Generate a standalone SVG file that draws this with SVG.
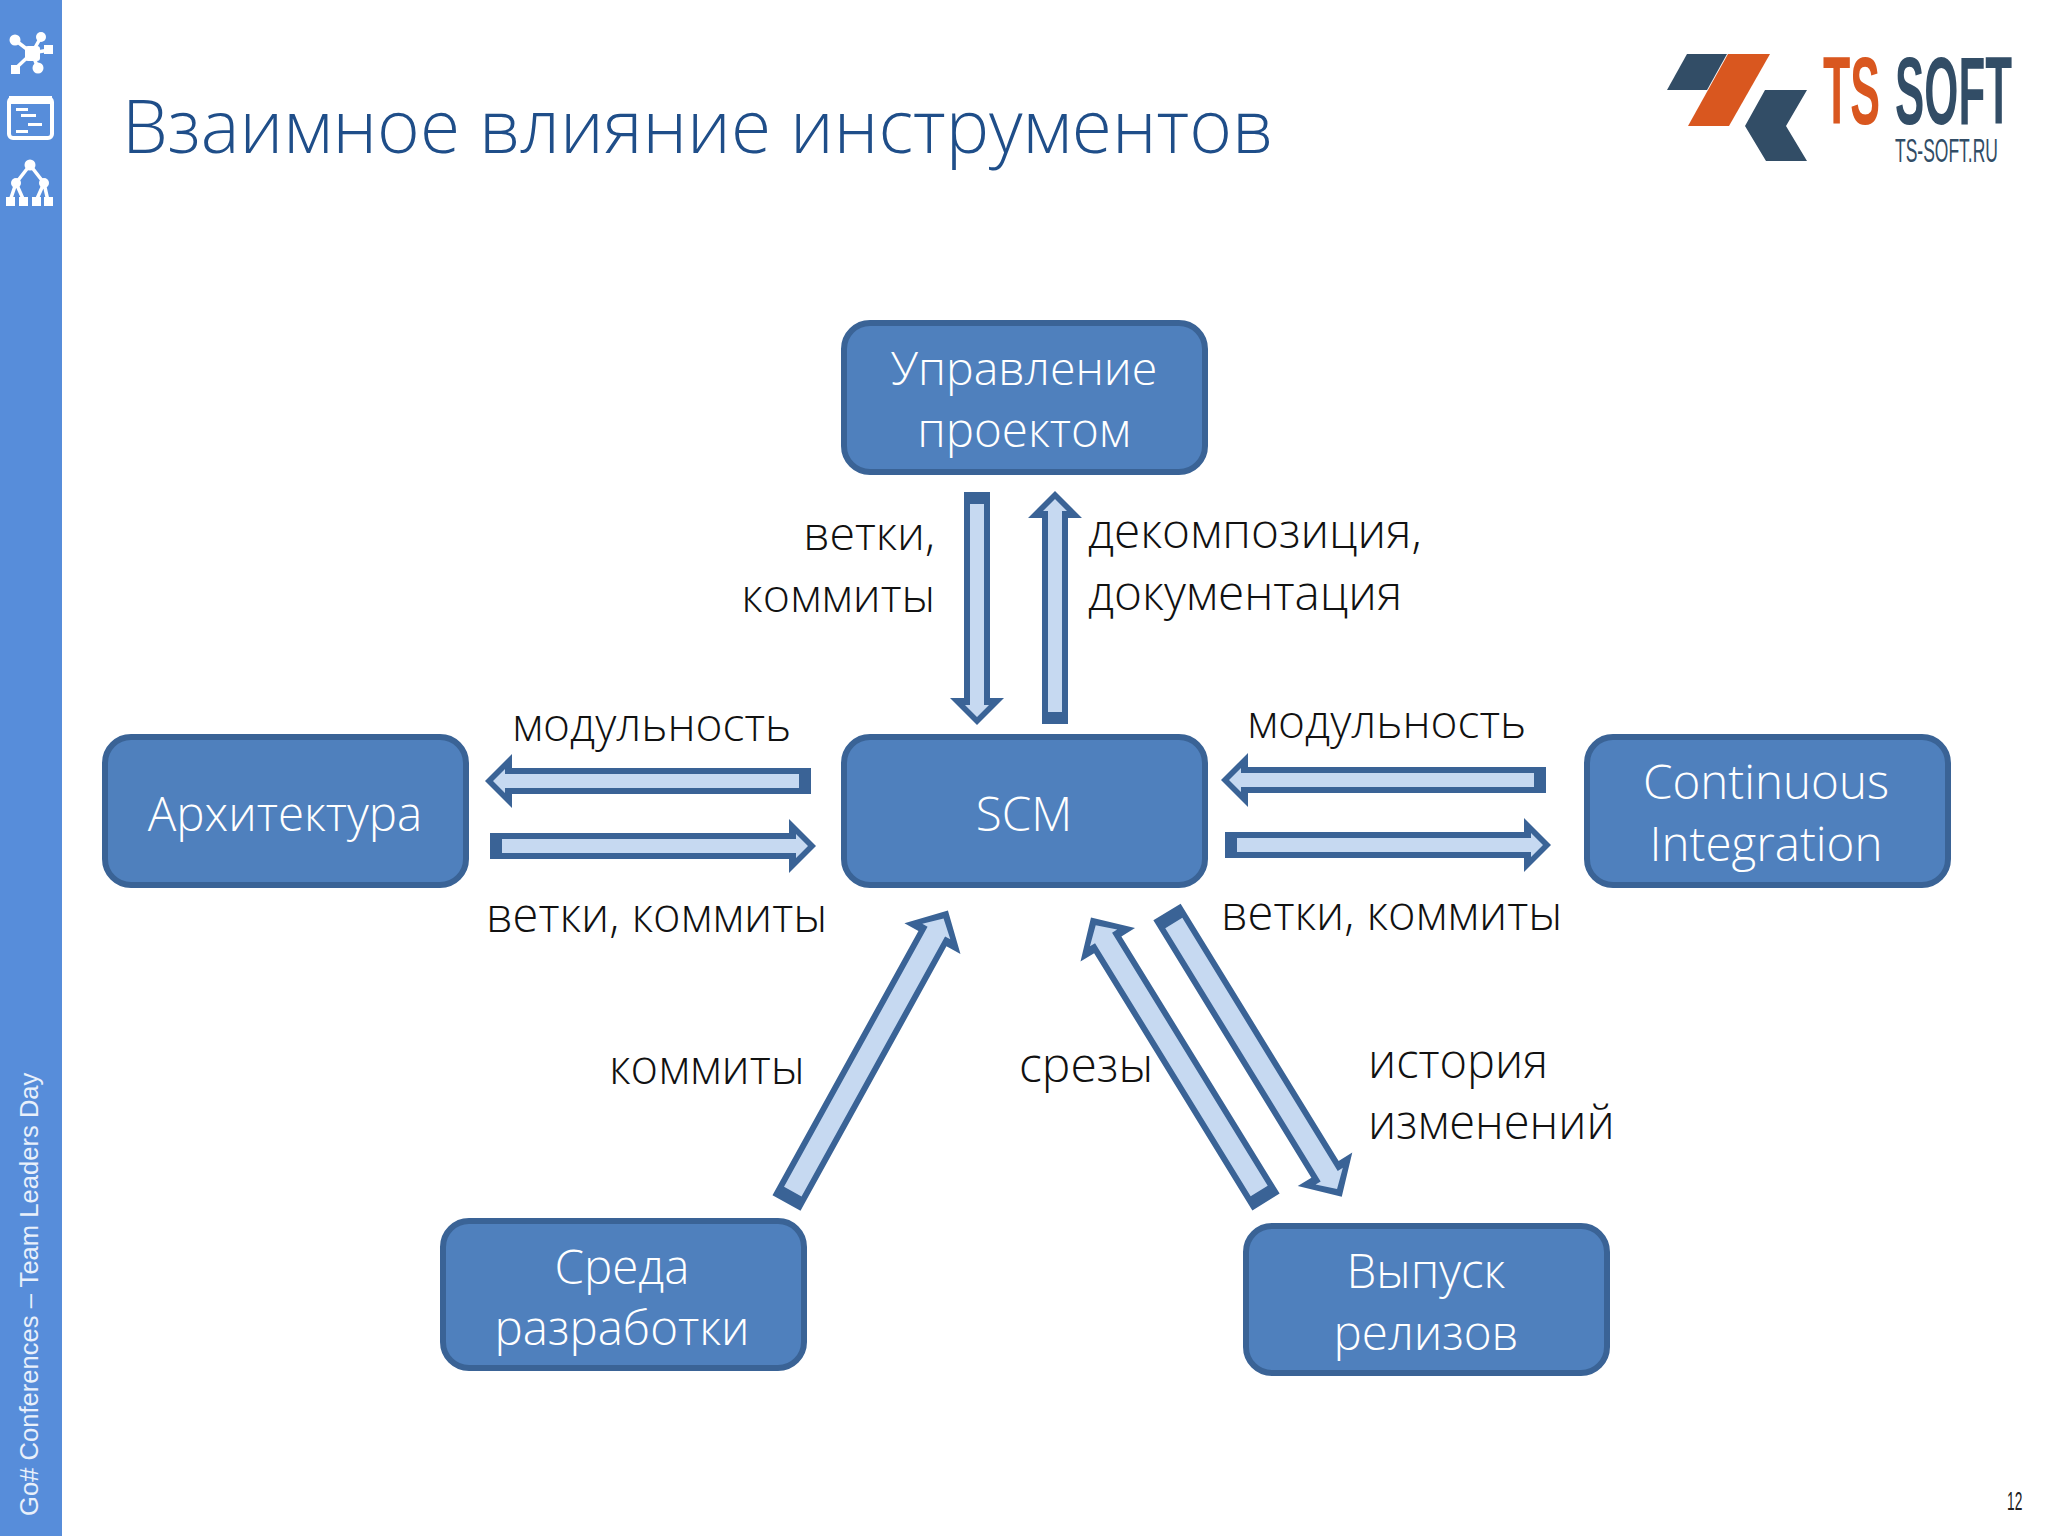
<svg xmlns="http://www.w3.org/2000/svg" width="2048" height="1536" viewBox="0 0 2048 1536">
<style>
.box{fill:#4f80bd;stroke:#3a6396;stroke-width:6}
.nt{font-family:"Open Sans","Noto Sans",sans-serif;font-weight:300;font-size:47.5px;fill:#fff;text-anchor:middle}
.lb{font-family:"Open Sans","Noto Sans",sans-serif;font-weight:300;font-size:47px;fill:#111}
.o{fill:#3a6396}
.i{fill:#c6d9f1}
.ic{fill:#fff;stroke:none}
.il{stroke:#fff;fill:none;stroke-width:3.5}
</style>
<rect width="2048" height="1536" fill="#fff"/>
<g id="sidebar">
<rect width="62" height="1536" fill="#578dda"/>
<g id="icon-network">
<path class="il" d="M15 40L32 53M41 37L32 53M49 50L32 53M15 69L32 53M38 68L32 53"/>
<rect class="ic" x="25" y="46" width="15" height="15" rx="3"/>
<circle class="ic" cx="15" cy="40" r="5.5"/><circle class="ic" cx="41" cy="37" r="5"/><rect class="ic" x="44" y="45" width="9" height="9"/><rect class="ic" x="11" y="65" width="9" height="9"/><circle class="ic" cx="38" cy="68" r="5.5"/>
</g>
<g id="icon-gantt">
<rect x="9" y="98" width="43" height="40" rx="4" fill="none" stroke="#fff" stroke-width="4"/>
<rect class="ic" x="9" y="96" width="43" height="8"/>
<rect class="ic" x="16" y="108" width="12" height="3"/><rect class="ic" x="21" y="114" width="15" height="3"/><rect class="ic" x="28" y="123" width="14" height="3"/><rect class="ic" x="16" y="130" width="12" height="3"/>
</g>
<g id="icon-tree">
<path class="il" stroke-width="5" d="M30 165L16 183L10 201M16 183L24 201M30 165L44 183L36 201M44 183L48 201"/>
<circle class="ic" cx="30" cy="165" r="5.5"/><circle class="ic" cx="16" cy="183" r="5"/><circle class="ic" cx="44" cy="183" r="5"/><rect class="ic" x="6" y="197" width="9" height="9"/><rect class="ic" x="19" y="197" width="9" height="9"/><rect class="ic" x="32" y="197" width="9" height="9"/><rect class="ic" x="44" y="197" width="9" height="9"/>
</g>
<text transform="translate(38 1516) rotate(-90)" font-family="Liberation Sans,Arial,sans-serif" font-size="25.6" fill="#e8f0fb">Go# Conferences – Team Leaders Day</text>
</g>
<text id="title" x="122" y="153" font-family="Open Sans,Noto Sans,sans-serif" font-weight="300" font-size="73" fill="#1f4e89">Взаимное влияние инструментов</text>
<g id="logo">
<polygon points="1667,90 1687,54 1727,54 1707,90" fill="#324d66"/>
<polygon points="1688,126 1728,54 1770,54 1729,126" fill="#d9571f"/>
<polygon points="1765,90 1807,90 1786,126 1807,161 1766,161 1745,126" fill="#324d66"/>
<text transform="translate(1823 124) scale(.465 1)" font-family="Liberation Sans,sans-serif" font-weight="700" font-size="96" fill="#d9571f">TS</text>
<text transform="translate(1895 124) scale(.457 1)" font-family="Liberation Sans,sans-serif" font-weight="700" font-size="96" fill="#324d66">SOFT</text>
<text transform="translate(1895 162) scale(.53 1)" font-family="Liberation Sans,sans-serif" font-size="33" fill="#324d66">TS-SOFT.RU</text>
</g>
<g id="connectors">
<g transform="translate(977 492) rotate(90)"><polygon class="o" points="0,-13 206,-13 206,-27 233,0 206,27 206,13 0,13"/><polygon class="i" points="12,-7 213,-7 213,-12 225,0 213,12 213,7 12,7"/></g>
<g transform="translate(1055 724) rotate(-90)"><polygon class="o" points="0,-13 206,-13 206,-27 233,0 206,27 206,13 0,13"/><polygon class="i" points="12,-7 213,-7 213,-12 225,0 213,12 213,7 12,7"/></g>
<g transform="translate(811 781) rotate(180)"><polygon class="o" points="0,-13 299,-13 299,-27 326,0 299,27 299,13 0,13"/><polygon class="i" points="12,-7 306,-7 306,-12 318,0 306,12 306,7 12,7"/></g>
<g transform="translate(490 846)"><polygon class="o" points="0,-13 299,-13 299,-27 326,0 299,27 299,13 0,13"/><polygon class="i" points="12,-7 306,-7 306,-12 318,0 306,12 306,7 12,7"/></g>
<g transform="translate(1546 780) rotate(180)"><polygon class="o" points="0,-13 298,-13 298,-27 325,0 298,27 298,13 0,13"/><polygon class="i" points="12,-7 305,-7 305,-12 317,0 305,12 305,7 12,7"/></g>
<g transform="translate(1225 845)"><polygon class="o" points="0,-13 299,-13 299,-27 326,0 299,27 299,13 0,13"/><polygon class="i" points="12,-7 306,-7 306,-12 318,0 306,12 306,7 12,7"/></g>
<g transform="translate(786.5 1203) rotate(-61.1)"><polygon class="o" points="0,-16 302,-16 302,-32 334,0 302,32 302,16 0,16"/><polygon class="i" points="13,-10 310,-10 310,-16 325,0 310,16 310,10 13,10"/></g>
<g transform="translate(1266 1202) rotate(-121.6)"><polygon class="o" points="0,-16 302,-16 302,-32 334,0 302,32 302,16 0,16"/><polygon class="i" points="13,-10 310,-10 310,-16 325,0 310,16 310,10 13,10"/></g>
<g transform="translate(1167 912) rotate(58.45)"><polygon class="o" points="0,-16 302,-16 302,-32 334,0 302,32 302,16 0,16"/><polygon class="i" points="13,-10 310,-10 310,-16 325,0 310,16 310,10 13,10"/></g>
</g>
<g id="node-pm"><rect class="box" x="844" y="323" width="361" height="149" rx="26"/><text class="nt" x="1024" y="385" font-size="46.5" style="font-size:46.5px">Управление</text><text class="nt" x="1024" y="447">проектом</text></g>
<g id="node-scm"><rect class="box" x="844" y="737" width="361" height="148" rx="26"/><text class="nt" x="1024" y="831">SCM</text></g>
<g id="node-arch"><rect class="box" x="105" y="737" width="361" height="148" rx="26"/><text class="nt" x="285" y="831">Архитектура</text></g>
<g id="node-ci"><rect class="box" x="1587" y="737" width="361" height="148" rx="26"/><text class="nt" x="1766" y="799">Continuous</text><text class="nt" x="1766" y="861">Integration</text></g>
<g id="node-dev"><rect class="box" x="443" y="1221" width="361" height="147" rx="26"/><text class="nt" x="622" y="1284">Среда</text><text class="nt" x="622" y="1345">разработки</text></g>
<g id="node-rel"><rect class="box" x="1246" y="1226" width="361" height="147" rx="26"/><text class="nt" x="1426" y="1288">Выпуск</text><text class="nt" x="1426" y="1350">релизов</text></g>
<g id="labels">
<text class="lb" x="935" y="550" text-anchor="end" style="font-size:46.5px">ветки,</text>
<text class="lb" x="935" y="612" text-anchor="end" style="font-size:46.5px">коммиты</text>
<text class="lb" x="1088" y="548" style="font-size:47.7px">декомпозиция,</text>
<text class="lb" x="1088" y="610" style="font-size:47.7px">документация</text>
<text class="lb" x="512" y="741" style="font-size:46px">модульность</text>
<text class="lb" x="1247" y="738" style="font-size:46px">модульность</text>
<text class="lb" x="486" y="932">ветки, коммиты</text>
<text class="lb" x="1221" y="930">ветки, коммиты</text>
<text class="lb" x="609" y="1084">коммиты</text>
<text class="lb" x="1019" y="1082" style="font-size:48px">срезы</text>
<text class="lb" x="1368" y="1078">история</text>
<text class="lb" x="1368" y="1139">изменений</text>
</g>
<text id="page" transform="translate(2007 1510) scale(.55 1)" font-family="Liberation Sans,sans-serif" font-size="25" fill="#222">12</text>
</svg>
